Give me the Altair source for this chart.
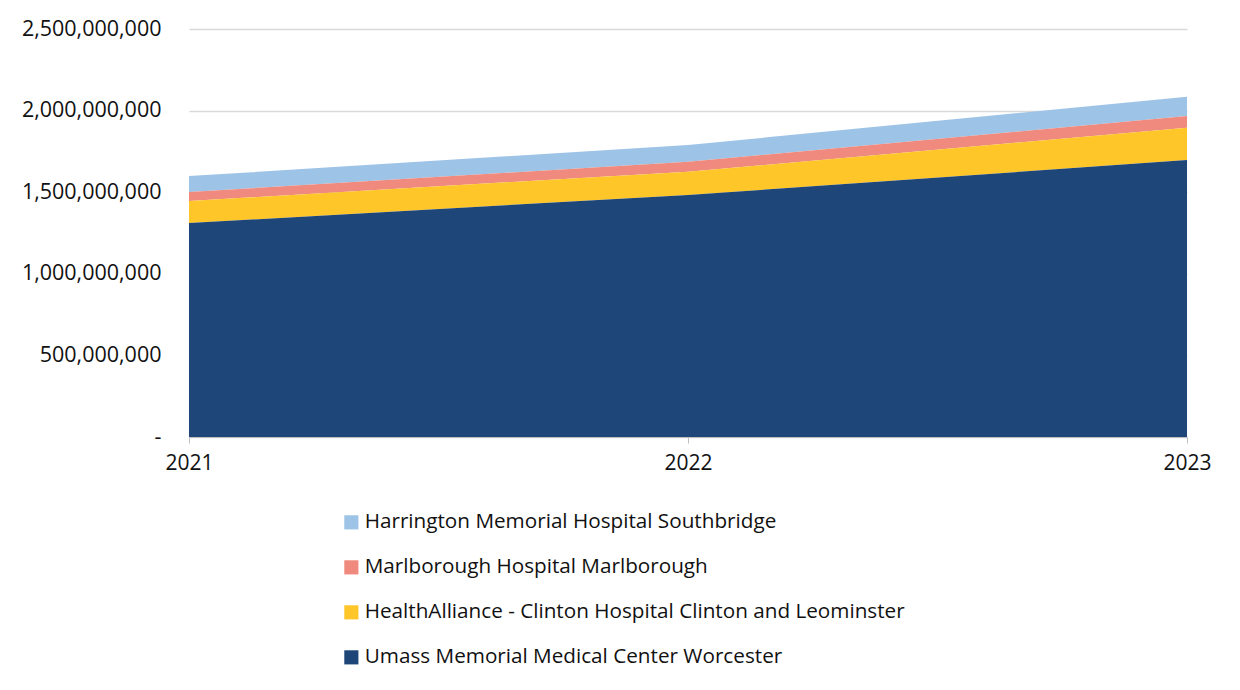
import altair as alt
import pandas as pd

years = [2021, 2022, 2023]
hospitals = [
    "Harrington Memorial Hospital Southbridge",
    "Marlborough Hospital Marlborough",
    "HealthAlliance - Clinton Hospital Clinton and Leominster",
    "Umass Memorial Medical Center Worcester",
]
colors = ["#9DC3E6", "#F08A7E", "#FFC62A", "#1F4678"]
stack_order = [3, 2, 1, 0]

harrington = [98_000_000, 102_000_000, 118_000_000]
marlborough = [55_000_000, 61_000_000, 72_000_000]
healthalliance = [135_000_000, 143_000_000, 198_000_000]
umass = [1_311_000_000, 1_483_000_000, 1_697_000_000]

series = [harrington, marlborough, healthalliance, umass]
rows = []
for name, vals, o in zip(hospitals, series, stack_order):
    for y, v in zip(years, vals):
        rows.append({"year": str(y), "hospital": name, "value": v, "ord": o})
df = pd.DataFrame(rows)

FONT = "Open Sans"

chart = alt.Chart(df).mark_area(interpolate="linear").encode(
    x=alt.X("year:O",
            scale=alt.Scale(type="point", padding=0),
            axis=alt.Axis(title=None, grid=False, labelAngle=0,
                          tickSize=6, tickColor="#bfbfbf", domainColor="#bfbfbf",
                          labelFontSize=21, labelColor="#111", labelFont=FONT,
                          labelPadding=9)),
    y=alt.Y("value:Q", stack="zero",
            scale=alt.Scale(domain=[0, 2_500_000_000], nice=False),
            axis=alt.Axis(values=[0, 500_000_000, 1_000_000_000, 1_500_000_000,
                                  2_000_000_000, 2_500_000_000],
                          labelExpr="datum.value == 0 ? '-' : format(datum.value, ',')",
                          title=None, domain=False, ticks=False, grid=True,
                          gridColor="#d9d9d9", gridWidth=1.3,
                          labelFontSize=21.5, labelColor="#111", labelFont=FONT,
                          labelPadding=28)),
    color=alt.Color("hospital:N",
                    scale=alt.Scale(domain=hospitals, range=colors),
                    legend=alt.Legend(title=None, orient="none", legendX=152, legendY=483,
                                      direction="vertical", symbolType="square",
                                      symbolSize=200, symbolStrokeWidth=0,
                                      labelFontSize=20.7, labelFont=FONT, labelColor="#111",
                                      rowPadding=23, labelLimit=800, padding=0,
                                      labelOffset=3)),
    order=alt.Order("ord:Q"),
).properties(
    width=998, height=408,
    background="white",
    autosize=alt.AutoSizeParams(type="none"),
    padding={"left": 181, "top": 21, "right": 45, "bottom": 245},
).configure_view(stroke=None)

chart.save("out.html", embed_options={"renderer": "svg", "actions": False})
